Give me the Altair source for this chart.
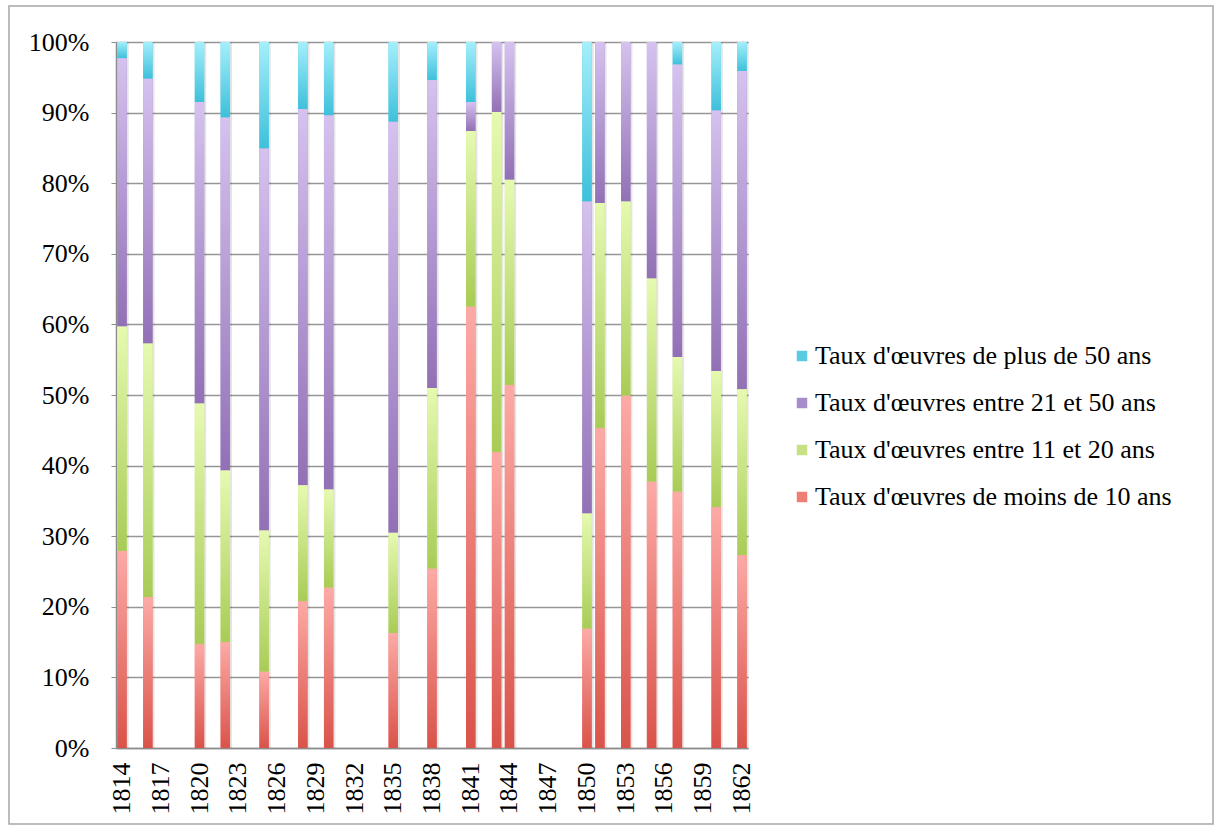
import altair as alt
import pandas as pd

# ---- data (percent of works per age class) ----
years = [1814, 1816, 1820, 1822, 1825, 1828, 1830, 1835, 1838, 1841,
         1843, 1844, 1850, 1851, 1853, 1855, 1857, 1860, 1862]
moins_10 = [27.9, 21.4, 14.7, 15.0, 10.8, 20.8, 22.7, 16.3, 25.4, 62.5,
            41.9, 51.4, 16.9, 45.3, 49.9, 37.7, 36.3, 34.1, 27.3]
entre_11_20 = [31.8, 35.9, 34.1, 24.3, 20.0, 16.4, 13.9, 14.2, 25.6, 24.9,
               48.2, 29.1, 16.3, 31.9, 27.5, 28.8, 19.1, 19.3, 23.5]
entre_21_50 = [38.0, 37.5, 42.7, 50.0, 54.1, 53.3, 53.0, 58.2, 43.6, 4.1,
               9.9, 19.5, 44.2, 22.8, 22.6, 33.5, 41.4, 36.9, 45.1]
plus_50 = [2.3, 5.2, 8.5, 10.7, 15.1, 9.5, 10.4, 11.3, 5.4, 8.5,
           0.0, 0.0, 22.6, 0.0, 0.0, 0.0, 3.2, 9.7, 4.1]

series_names = [
    "Taux d'œuvres de plus de 50 ans",
    "Taux d'œuvres entre 21 et 50 ans",
    "Taux d'œuvres entre 11 et 20 ans",
    "Taux d'œuvres de moins de 10 ans",
]
series_values = [plus_50, entre_21_50, entre_11_20, moins_10]
stack_order = [4, 3, 2, 1]  # bottom = 1

all_years = list(range(1814, 1863))
tick_years = list(range(1814, 1863, 3))

solid_colors = ["#58CBE2", "#A68CCB", "#C6E285", "#EF7E74"]
grad_top = ["#A4EFFB", "#D5C2EF", "#E6FAB0", "#FDAAA6"]
grad_bottom = ["#3EC0DB", "#9270B5", "#A8CC56", "#D9534A"]

FONT = "Liberation Serif"
FS = 26

rows = []
for name, vals, order in zip(series_names, series_values, stack_order):
    for y, v in zip(years, vals):
        rows.append({"year": y, "series": name, "value": v, "order": order})
df = pd.DataFrame(rows)

x_enc = alt.X(
    "year:O",
    scale=alt.Scale(domain=all_years, paddingInner=0.27, paddingOuter=0.1),
    axis=alt.Axis(
        title=None, values=tick_years, labelAngle=-90, labelPadding=14,
        ticks=False, domainColor="#8c8c8c", domainWidth=1.5,
        labelFont=FONT, labelFontSize=FS, labelColor="#000000",
    ),
)
y_scale = alt.Scale(domain=[0, 1])
y_axis = alt.Axis(
    title=None, format="%", values=[i / 10 for i in range(11)],
    tickSize=5, tickColor="#8c8c8c", domainColor="#8c8c8c", domainWidth=1.5,
    gridColor="#969696", gridWidth=1.4, labelPadding=22,
    labelFont=FONT, labelFontSize=FS, labelColor="#000000",
)

base = alt.Chart(df).transform_stack(
    stack="value", groupby=["year"], as_=["v0", "v1"], offset="normalize",
    sort=[alt.SortField("order", order="ascending")],
)

shadow = base.mark_bar(color="#000000", opacity=0.10, xOffset=2).encode(
    x=x_enc, y=alt.Y("v0:Q", scale=y_scale, axis=y_axis), y2="v1:Q",
)

legend_layer = base.mark_bar().encode(
    x=x_enc,
    y=alt.Y("v0:Q", scale=y_scale, axis=y_axis),
    y2="v1:Q",
    color=alt.Color(
        "series:N",
        scale=alt.Scale(domain=series_names, range=solid_colors),
        legend=alt.Legend(
            title=None, orient="none", legendX=673, legendY=301,
            symbolType="square", symbolSize=110, symbolStrokeWidth=0,
            labelFont=FONT, labelFontSize=FS, labelColor="#000000",
            labelLimit=600, rowPadding=21, labelOffset=0,
        ),
    ),
)

grad_layers = []
for name, top, bot in zip(series_names, grad_top, grad_bottom):
    g = alt.LinearGradient(
        gradient="linear", x1=0, y1=0, x2=0, y2=1,
        stops=[alt.GradientStop(color=top, offset=0),
               alt.GradientStop(color=bot, offset=1)],
    )
    grad_layers.append(
        base.transform_filter(alt.datum.series == name)
        .mark_bar(color=g)
        .encode(x=x_enc, y=alt.Y("v0:Q", scale=y_scale, axis=y_axis), y2="v1:Q")
    )

frame = alt.Chart(pd.DataFrame({"a": [0]})).mark_rect(
    fill="transparent", stroke="#a6a6a6", strokeWidth=1.5
).encode(
    x=alt.value(-107), x2=alt.value(1097), y=alt.value(-36), y2=alt.value(782)
)

chart = alt.layer(frame, shadow, legend_layer, *grad_layers).properties(
    width=632, height=706,
    autosize=alt.AutoSizeParams(type="none"),
    padding={"left": 116, "top": 42, "right": 470, "bottom": 88},
    background="white",
).configure_view(stroke="transparent")

chart.save("out.html", embed_options={"renderer": "svg", "actions": False})
